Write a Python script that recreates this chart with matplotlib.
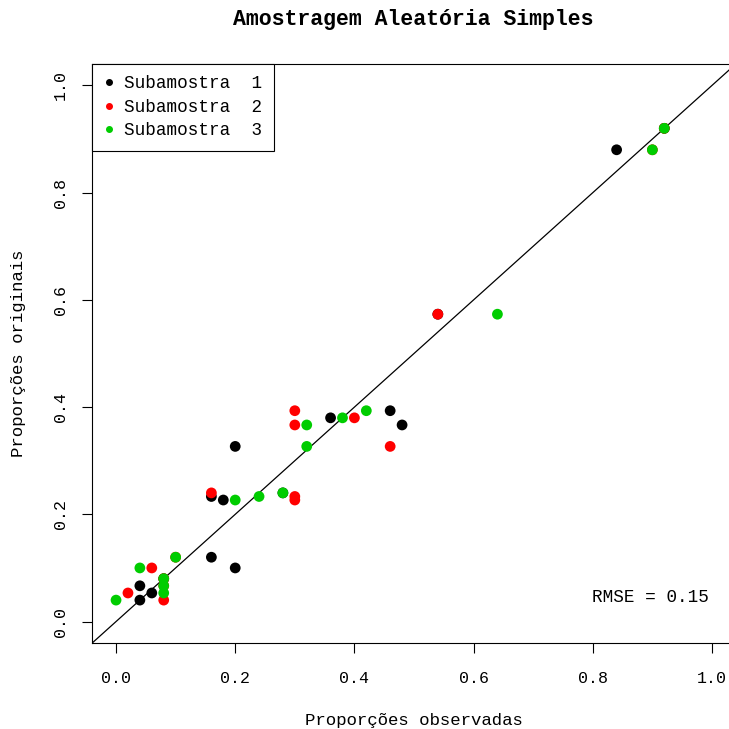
import matplotlib
matplotlib.use("Agg")
import matplotlib.pyplot as plt
from matplotlib.lines import Line2D

# Original proportions (y) shared by all subsamples
prop_original = [0.04, 0.0533, 0.0667, 0.08, 0.10, 0.12, 0.2267, 0.2333, 0.24,
                 0.3267, 0.3667, 0.38, 0.3933, 0.5733, 0.88, 0.92]
# Observed proportions (x) per subsample
obs_sub1 = [0.04, 0.06, 0.04, 0.08, 0.20, 0.16, 0.18, 0.16, 0.28,
            0.20, 0.48, 0.36, 0.46, 0.54, 0.84, 0.92]
obs_sub2 = [0.08, 0.02, 0.08, 0.08, 0.06, 0.10, 0.30, 0.30, 0.16,
            0.46, 0.30, 0.40, 0.30, 0.54, 0.90, 0.92]
obs_sub3 = [0.00, 0.08, 0.08, 0.08, 0.04, 0.10, 0.20, 0.24, 0.28,
            0.32, 0.32, 0.38, 0.42, 0.64, 0.90, 0.92]

labels = ["Subamostra  1", "Subamostra  2", "Subamostra  3"]
colors = ["#000000", "#FF0000", "#00CD00"]
ticks = [0.0, 0.2, 0.4, 0.6, 0.8, 1.0]
tick_labels = ["0.0", "0.2", "0.4", "0.6", "0.8", "1.0"]
rmse_text = "RMSE = 0.15"

font = "Liberation Mono"
plt.rcParams['font.family'] = [font, 'DejaVu Sans']

fig = plt.figure(figsize=(7.29, 7.29), dpi=100)
W = H = 729.0
left_px, right_px = 92.2, 735.8
top_px, bot_px = 64.0, 643.0
ax = fig.add_axes([left_px / W, (H - bot_px) / H,
                   (right_px - left_px) / W, (bot_px - top_px) / H])
ax.set_xlim(-0.04, 1.04)
ax.set_ylim(-0.04, 1.04)

ax.plot([-0.1, 1.1], [-0.1, 1.1], color="black", lw=0.9, zorder=1)

for xs, c in zip([obs_sub1, obs_sub2, obs_sub3], colors):
    ax.scatter(xs, prop_original, s=60, color=c, edgecolors="none", zorder=2)

ax.set_xticks(ticks)
ax.set_xticklabels(tick_labels, fontsize=12, family=font)
ax.set_yticks(ticks)
ax.set_yticklabels(tick_labels, fontsize=12, family=font, rotation=90, va="center")
ax.tick_params(axis="x", direction="out", length=7.2, width=0.8, pad=13, colors="black")
ax.tick_params(axis="y", direction="out", length=7.2, width=0.8, pad=10, colors="black")
for sp in ax.spines.values():
    sp.set_linewidth(0.8)
    sp.set_color("black")

ax.set_xlabel("Proporções observadas", fontsize=12.5, family=font, va="center")
ax.set_ylabel("Proporções originais", fontsize=12.5, family=font, va="center")
ax.xaxis.set_label_coords(((300 + 527) / 2 - left_px) / (right_px - left_px),
                          (bot_px - 720) / (bot_px - top_px))
ax.yaxis.set_label_coords((19 - left_px) / (right_px - left_px), 0.5)
fig.text(((232 + 594) / 2) / W, 1 - 19 / H, "Amostragem Aleatória Simples",
         fontsize=15.5, family=font, fontweight="bold", ha="center", va="center")

handles = [Line2D([], [], marker="o", linestyle="none", color=c, markersize=4)
           for c in colors]
leg = ax.legend(handles, labels, loc="upper left", bbox_to_anchor=(0, 1),
                borderaxespad=0, fancybox=False, framealpha=1, edgecolor="black",
                prop={"family": font, "size": 12.7}, handlelength=0.6,
                handletextpad=0.55, borderpad=0.65, labelspacing=0.36)
leg.get_frame().set_linewidth(0.8)

ax.text(0.994, 0.045, rmse_text, fontsize=12.7, family=font, ha="right", va="center")

fig.savefig("out.png", dpi=100)
